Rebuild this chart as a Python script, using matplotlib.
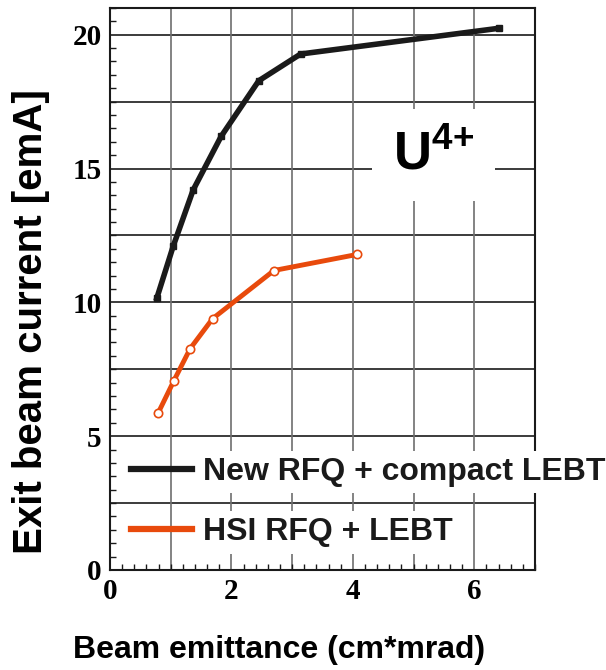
import numpy as np
import matplotlib
matplotlib.use("Agg")
import matplotlib.pyplot as plt
from matplotlib.ticker import MultipleLocator

# ======================= data ======================= #
new_emit = [0.77, 1.04, 1.37, 1.83, 2.45, 3.14, 6.40]
new_curr = [10.15, 12.09, 14.2, 16.2, 18.28, 19.28, 20.24]

hsi_emit = [0.79, 1.05, 1.32, 1.69, 2.70, 4.07]
hsi_curr = [5.85, 7.06, 8.27, 9.39, 11.19, 11.79]

labels = ["New RFQ + compact LEBT", "HSI RFQ + LEBT"]
x_ticks = [0, 2, 4, 6]
y_ticks = [0, 5, 10, 15, 20]

ORANGE = "#e84a0c"
SANS = "Liberation Sans"
SERIF = "Liberation Serif"

plt.rcParams["mathtext.fontset"] = "custom"
plt.rcParams["mathtext.rm"] = SANS + ":bold"
plt.rcParams["mathtext.default"] = "rm"

# ======================= figure ======================= #
fig = plt.figure(figsize=(6.06, 6.7), dpi=100)
ax = fig.add_axes([0.1815, 0.1493, 0.7013, 0.8388])

ax.set_xlim(0, 7)
ax.set_ylim(0, 21)

# grid: horizontal every 2.5 dark, vertical every 1 gray
for yv in np.arange(2.5, 21, 2.5):
    ax.axhline(yv, color="#1a1a1a", lw=1.2, zorder=0.5)
for xv in range(1, 7):
    ax.axvline(xv, color="#6e6e6e", lw=1.2, zorder=0.5)

ax.plot(new_emit, new_curr, color="#1a1a1a", lw=4, marker="s", ms=5,
        mfc="#1a1a1a", mec="#1a1a1a", label=labels[0], zorder=3)
ax.plot(hsi_emit, hsi_curr, color=ORANGE, lw=3.5, marker="o", ms=6,
        mfc="white", mec=ORANGE, mew=1.2, label=labels[1], zorder=3)

ax.xaxis.set_major_locator(MultipleLocator(2))
ax.xaxis.set_minor_locator(MultipleLocator(0.2))
ax.yaxis.set_major_locator(MultipleLocator(5))
ax.yaxis.set_minor_locator(MultipleLocator(0.5))
ax.set_xticks(x_ticks)
ax.set_yticks(y_ticks)
ax.tick_params(which="both", direction="in", color="#1a1a1a")
ax.tick_params(which="major", length=0, pad=6)
ax.tick_params(which="minor", length=4, width=1)
for lab in ax.get_xticklabels() + ax.get_yticklabels():
    lab.set_fontfamily(SERIF)
    lab.set_fontweight("bold")
    lab.set_fontsize(21)

for sp in ax.spines.values():
    sp.set_linewidth(1.5)
    sp.set_color("#1a1a1a")

ax.text(5.33, 15.5, "U$^{4{+}}$", fontsize=38, fontfamily=SANS,
        fontweight="bold", ha="center", va="center", zorder=4,
        bbox=dict(boxstyle="square,pad=0.4", fc="white", ec="none"))

leg = ax.legend(loc="upper left", bbox_to_anchor=(131 / 606, 1 - 457 / 670),
                bbox_transform=fig.transFigure, frameon=False,
                prop={"family": SANS, "weight": "bold", "size": 23},
                handlelength=1.9, handletextpad=0.35, labelspacing=0.95,
                borderpad=0, borderaxespad=0)
leg.set_zorder(5)
for t in leg.get_texts():
    t.set_color("#1a1a1a")
    t.set_bbox(dict(boxstyle="square,pad=0.2", fc="white", ec="none"))
for h in leg.get_lines():
    h.set_linewidth(4.5)
    h.set_marker("")

fig.text(279 / 606, 1 - 650 / 670, "Beam emittance (cm*mrad)", fontsize=23,
         fontfamily=SANS, fontweight="bold", ha="center", va="center")
fig.text(31 / 606, 1 - 322 / 670, "Exit beam current [emA]", fontsize=29,
         fontfamily=SANS, fontweight="bold", ha="center", va="center",
         rotation=90)

fig.savefig("out.png", dpi=100)
